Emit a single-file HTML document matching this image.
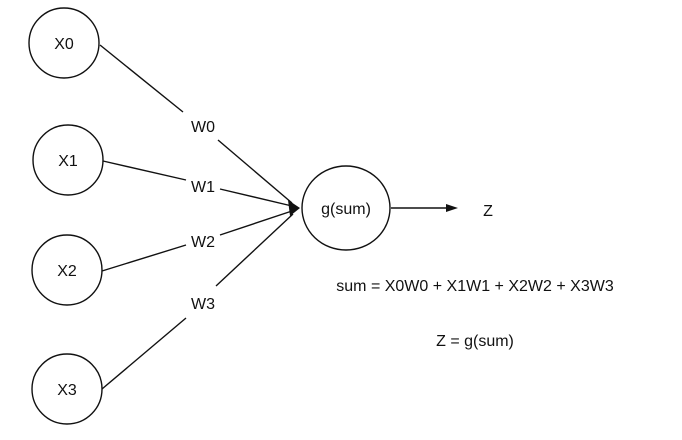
<!DOCTYPE html>
<html><head><style>
body{margin:0;background:#fff;}
svg text{font-family:"Liberation Sans",sans-serif;font-size:16px;fill:#111;}
</style></head><body>
<svg width="682" height="435" viewBox="0 0 682 435" xmlns="http://www.w3.org/2000/svg">
<g stroke="#111" stroke-width="1.4" fill="none">
<circle cx="64" cy="43" r="35"/>
<circle cx="68" cy="160" r="35"/>
<circle cx="67" cy="270" r="35"/>
<circle cx="67" cy="389" r="35"/>
<ellipse cx="346" cy="208" rx="44" ry="42"/>
<line x1="100" y1="45" x2="183" y2="112"/>
<line x1="218" y1="140" x2="292" y2="203"/>
<line x1="103" y1="161" x2="186" y2="180"/>
<line x1="220" y1="189" x2="292" y2="206"/>
<line x1="102" y1="271" x2="186" y2="245"/>
<line x1="220" y1="235" x2="292" y2="211"/>
<line x1="102" y1="389" x2="186" y2="318"/>
<line x1="216" y1="286" x2="293" y2="214"/>
<line x1="391" y1="208" x2="450" y2="208"/>
</g>
<polygon points="300,208 288,200 290,216" fill="#111"/>
<polygon points="458,208 446,204 446,212" fill="#111"/>
<g text-anchor="middle">
<text x="64" y="49">X0</text>
<text x="68" y="166">X1</text>
<text x="67" y="276">X2</text>
<text x="67" y="395">X3</text>
<text x="346" y="214">g(sum)</text>
<text x="203" y="132">W0</text>
<text x="203" y="192">W1</text>
<text x="203" y="247">W2</text>
<text x="203" y="309">W3</text>
<text x="488" y="216">Z</text>
<text x="475" y="291">sum = X0W0 + X1W1 + X2W2 + X3W3</text>
<text x="475" y="346">Z = g(sum)</text>
</g>
</svg>
</body></html>
